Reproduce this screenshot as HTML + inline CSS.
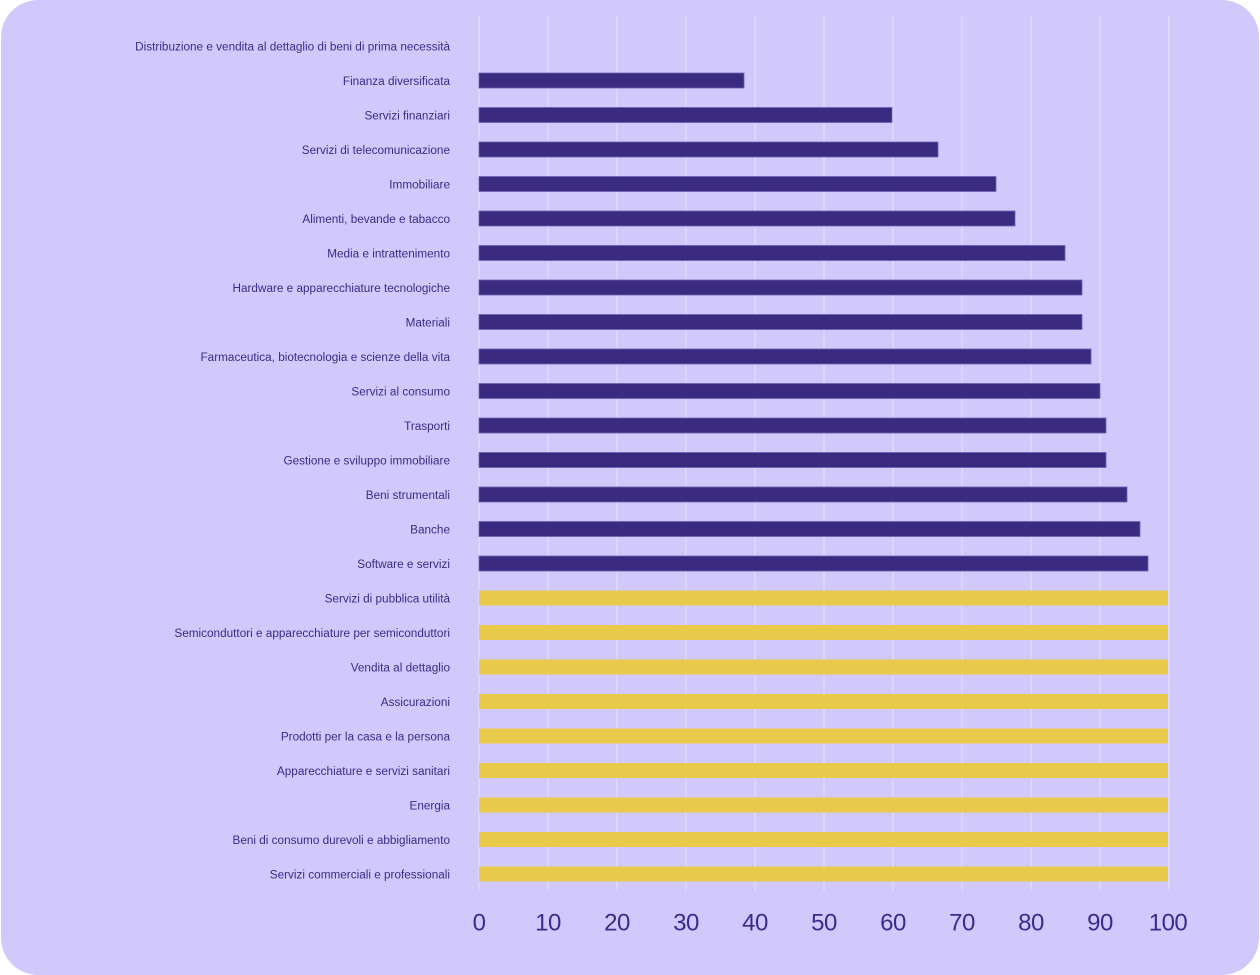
<!DOCTYPE html>
<html><head><meta charset="utf-8"><style>
html,body{margin:0;padding:0;background:#ffffff;}
svg{display:block;}
.lbl{font-family:"Liberation Sans",sans-serif;font-size:11.75px;fill:#3a2b85;}
.tk{font-family:"Liberation Sans",sans-serif;font-size:24px;fill:#3a2b8c;letter-spacing:-0.5px;}
</style></head><body>
<svg width="1260" height="975" viewBox="0 0 1260 975" xmlns="http://www.w3.org/2000/svg">
<rect x="1" y="0" width="1258" height="975" rx="37" ry="37" fill="#d1c9fc"/>
<g stroke="#e2ddfd" stroke-width="1.3">
<line x1="479" y1="15" x2="479" y2="891"/>
<line x1="548" y1="15" x2="548" y2="891"/>
<line x1="617" y1="15" x2="617" y2="891"/>
<line x1="686" y1="15" x2="686" y2="891"/>
<line x1="755" y1="15" x2="755" y2="891"/>
<line x1="824" y1="15" x2="824" y2="891"/>
<line x1="893" y1="15" x2="893" y2="891"/>
<line x1="962" y1="15" x2="962" y2="891"/>
<line x1="1031" y1="15" x2="1031" y2="891"/>
<line x1="1100" y1="15" x2="1100" y2="891"/>
<line x1="1169" y1="15" x2="1169" y2="891"/>
</g>
<g fill="#3a2b80" stroke="#6d61b3" stroke-width="0.8">
<rect x="479" y="73" width="265" height="15"/>
<rect x="479" y="107.5" width="413" height="15"/>
<rect x="479" y="142" width="459" height="15"/>
<rect x="479" y="176.5" width="517" height="15"/>
<rect x="479" y="211" width="536" height="15"/>
<rect x="479" y="245.5" width="586" height="15"/>
<rect x="479" y="280" width="603" height="15"/>
<rect x="479" y="314.5" width="603" height="15"/>
<rect x="479" y="349" width="612" height="15"/>
<rect x="479" y="383.5" width="621" height="15"/>
<rect x="479" y="418" width="627" height="15"/>
<rect x="479" y="452.5" width="627" height="15"/>
<rect x="479" y="487" width="648" height="15"/>
<rect x="479" y="521.5" width="661" height="15"/>
<rect x="479" y="556" width="669" height="15"/>
</g>
<g fill="#e9ca4b">
<rect x="479" y="590.5" width="689" height="15"/>
<rect x="479" y="625" width="689" height="15"/>
<rect x="479" y="659.5" width="689" height="15"/>
<rect x="479" y="694" width="689" height="15"/>
<rect x="479" y="728.5" width="689" height="15"/>
<rect x="479" y="763" width="689" height="15"/>
<rect x="479" y="797.5" width="689" height="15"/>
<rect x="479" y="832" width="689" height="15"/>
<rect x="479" y="866.5" width="689" height="15"/>
</g>
<g class="lbl" text-anchor="end">
<text x="450" y="50.5">Distribuzione e vendita al dettaglio di beni di prima necessità</text>
<text x="450" y="85">Finanza diversificata</text>
<text x="450" y="119.5">Servizi finanziari</text>
<text x="450" y="154">Servizi di telecomunicazione</text>
<text x="450" y="188.5">Immobiliare</text>
<text x="450" y="223">Alimenti, bevande e tabacco</text>
<text x="450" y="257.5">Media e intrattenimento</text>
<text x="450" y="292">Hardware e apparecchiature tecnologiche</text>
<text x="450" y="326.5">Materiali</text>
<text x="450" y="361">Farmaceutica, biotecnologia e scienze della vita</text>
<text x="450" y="395.5">Servizi al consumo</text>
<text x="450" y="430">Trasporti</text>
<text x="450" y="464.5">Gestione e sviluppo immobiliare</text>
<text x="450" y="499">Beni strumentali</text>
<text x="450" y="533.5">Banche</text>
<text x="450" y="568">Software e servizi</text>
<text x="450" y="602.5">Servizi di pubblica utilità</text>
<text x="450" y="637">Semiconduttori e apparecchiature per semiconduttori</text>
<text x="450" y="671.5">Vendita al dettaglio</text>
<text x="450" y="706">Assicurazioni</text>
<text x="450" y="740.5">Prodotti per la casa e la persona</text>
<text x="450" y="775">Apparecchiature e servizi sanitari</text>
<text x="450" y="809.5">Energia</text>
<text x="450" y="844">Beni di consumo durevoli e abbigliamento</text>
<text x="450" y="878.5">Servizi commerciali e professionali</text>
</g>
<g class="tk" text-anchor="middle">
<text x="479" y="930.5">0</text>
<text x="548" y="930.5">10</text>
<text x="617" y="930.5">20</text>
<text x="686" y="930.5">30</text>
<text x="755" y="930.5">40</text>
<text x="824" y="930.5">50</text>
<text x="893" y="930.5">60</text>
<text x="962" y="930.5">70</text>
<text x="1031" y="930.5">80</text>
<text x="1100" y="930.5">90</text>
<text x="1168" y="930.5">100</text>
</g>
</svg>
</body></html>
